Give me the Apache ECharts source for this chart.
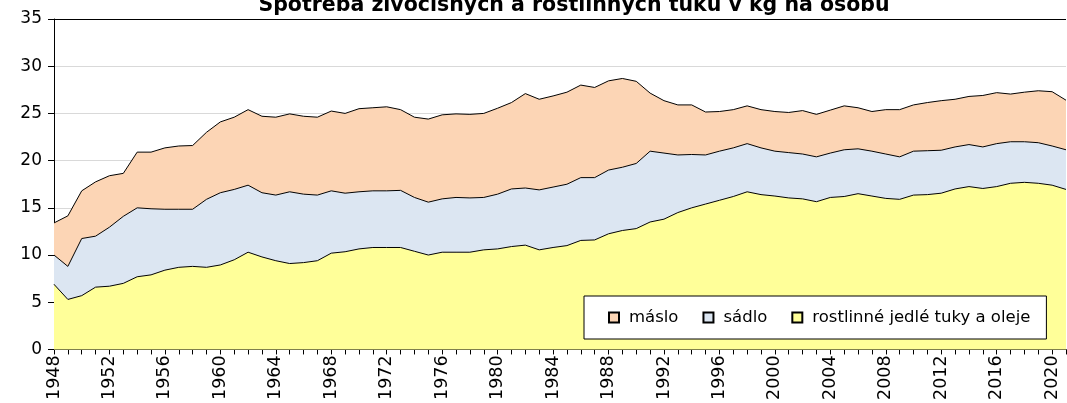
<!DOCTYPE html>
<html lang="cs">
<head>
<meta charset="UTF-8">
<title>Spotřeba tuků</title>
<script src="https://cdn.jsdelivr.net/npm/echarts@6/dist/echarts.min.js"></script>
<style>
    html, body { margin: 0; padding: 0; background: #fff; }
    #chart { width: 1067px; height: 403px; }
</style>
</head>
<body>
<div id="chart"></div>
<script>
// roky 1948–2021
const years = [];
for (let y = 1948; y <= 2021; y++) years.push(String(y));

// kg na osobu
const rostlinne = [
    6.9, 5.3, 5.7, 6.6, 6.7, 7.0, 7.7, 7.9, 8.4, 8.7, 8.8, 8.7, 8.95, 9.5, 10.3, 9.8, 9.4, 9.1, 9.2, 9.4,
    10.2, 10.35, 10.65, 10.8, 10.8, 10.8, 10.4, 10.0, 10.3, 10.3, 10.3, 10.55, 10.65, 10.9, 11.05, 10.55,
    10.8, 11.0, 11.55, 11.6, 12.25, 12.6, 12.8, 13.5, 13.8, 14.5, 15.0, 15.4, 15.8, 16.2, 16.7, 16.4,
    16.25, 16.05, 15.95, 15.65, 16.1, 16.2, 16.5, 16.25, 16.0, 15.9, 16.35, 16.4, 16.55, 17.0, 17.25,
    17.05, 17.25, 17.6, 17.7, 17.6, 17.4, 16.95
];
const sadlo = [
    3.1, 3.5, 6.05, 5.4, 6.25, 7.1, 7.3, 7.0, 6.45, 6.15, 6.05, 7.2, 7.65, 7.45, 7.1, 6.8, 6.95, 7.6, 7.25, 6.95,
    6.6, 6.2, 6.05, 6.0, 6.0, 6.05, 5.7, 5.6, 5.65, 5.8, 5.75, 5.55, 5.8, 6.1, 6.05, 6.35,
    6.4, 6.5, 6.65, 6.6, 6.75, 6.7, 6.9, 7.5, 7.0, 6.1, 5.65, 5.2, 5.2, 5.15, 5.1, 4.95,
    4.75, 4.8, 4.75, 4.75, 4.7, 4.95, 4.75, 4.75, 4.7, 4.5, 4.65, 4.65, 4.55, 4.45, 4.45,
    4.4, 4.55, 4.4, 4.3, 4.3, 4.15, 4.2
];
const maslo = [
    3.4, 5.35, 5.05, 5.75, 5.45, 4.55, 5.9, 6.0, 6.5, 6.7, 6.75, 7.1, 7.5, 7.65, 8.0, 8.1, 8.25, 8.25, 8.25, 8.25,
    8.45, 8.45, 8.8, 8.8, 8.9, 8.55, 8.5, 8.8, 8.9, 8.85, 8.85, 8.9, 9.1, 9.15, 10.0, 9.6,
    9.65, 9.75, 9.8, 9.55, 9.45, 9.4, 8.7, 6.15, 5.55, 5.3, 5.25, 4.55, 4.2, 4.05, 4.0, 4.05,
    4.2, 4.25, 4.6, 4.5, 4.55, 4.65, 4.35, 4.2, 4.7, 5.0, 4.9, 5.1, 5.25, 5.05, 5.1,
    5.45, 5.4, 5.05, 5.25, 5.5, 5.75, 5.25
];
const seriesNames = ['rostlinné jedlé tuky a oleje', 'sádlo', 'máslo'];
const seriesColors = ['#FFFF99', '#DCE6F2', '#FCD5B5'];

const font = 'DejaVu Sans';
const chart = echarts.init(document.getElementById('chart'));

function areaSeries(name, data, color) {
    return {
        name: name,
        type: 'line',
        stack: 'tuky',
        data: data,
        showSymbol: false,
        symbol: 'none',
        color: color,
        lineStyle: { color: '#000', width: 1 },
        areaStyle: { color: color, opacity: 1 },
        itemStyle: { color: color, borderColor: '#000', borderWidth: 1 }
    };
}

chart.setOption({
    animation: false,
    backgroundColor: '#fff',
    title: {
        text: 'Spotřeba živočišných a rostlinných tuků v kg na osobu',
        left: 569,
        textAlign: 'center',
        top: -10,
        textStyle: { fontFamily: font, fontWeight: 'bold', fontSize: 20.5, color: '#000' }
    },
    legend: {
        data: ['máslo', 'sádlo', 'rostlinné jedlé tuky a oleje'],
        left: 584,
        top: 296,
        orient: 'horizontal',
        backgroundColor: '#fff',
        borderColor: '#000',
        borderWidth: 1,
        padding: [13, 16, 13, 24],
        itemGap: 24,
        itemWidth: 10,
        itemHeight: 10,
        icon: 'rect',
        textStyle: { fontFamily: font, fontSize: 16.5, color: '#000', padding: [0, 0, 0, 5] }
    },
    grid: { left: 54, right: 1, top: 19, bottom: 51, containLabel: false },
    xAxis: {
        type: 'category',
        data: years,
        boundaryGap: false,
        axisLine: { lineStyle: { color: '#000', width: 1 } },
        axisTick: { show: true, interval: 0, length: 5, lineStyle: { color: '#000' } },
        axisLabel: { interval: 3, rotate: 90, margin: 6, fontFamily: font, fontSize: 17.5, color: '#000' },
        splitLine: { show: false }
    },
    yAxis: {
        type: 'value',
        min: 0,
        max: 35,
        interval: 5,
        axisLine: { show: true, lineStyle: { color: '#000', width: 1 } },
        axisTick: { show: true, length: 6, lineStyle: { color: '#000' } },
        axisLabel: { margin: 12, fontFamily: font, fontSize: 17, color: '#000' },
        splitLine: {
            show: true,
            lineStyle: { color: ['#D9D9D9', '#D9D9D9', '#D9D9D9', '#D9D9D9', '#D9D9D9', '#D9D9D9', '#D9D9D9', '#000'], width: 1 }
        }
    },
    series: [
        areaSeries(seriesNames[0], rostlinne, seriesColors[0]),
        areaSeries(seriesNames[1], sadlo, seriesColors[1]),
        areaSeries(seriesNames[2], maslo, seriesColors[2])
    ]
});
</script>
</body>
</html>
